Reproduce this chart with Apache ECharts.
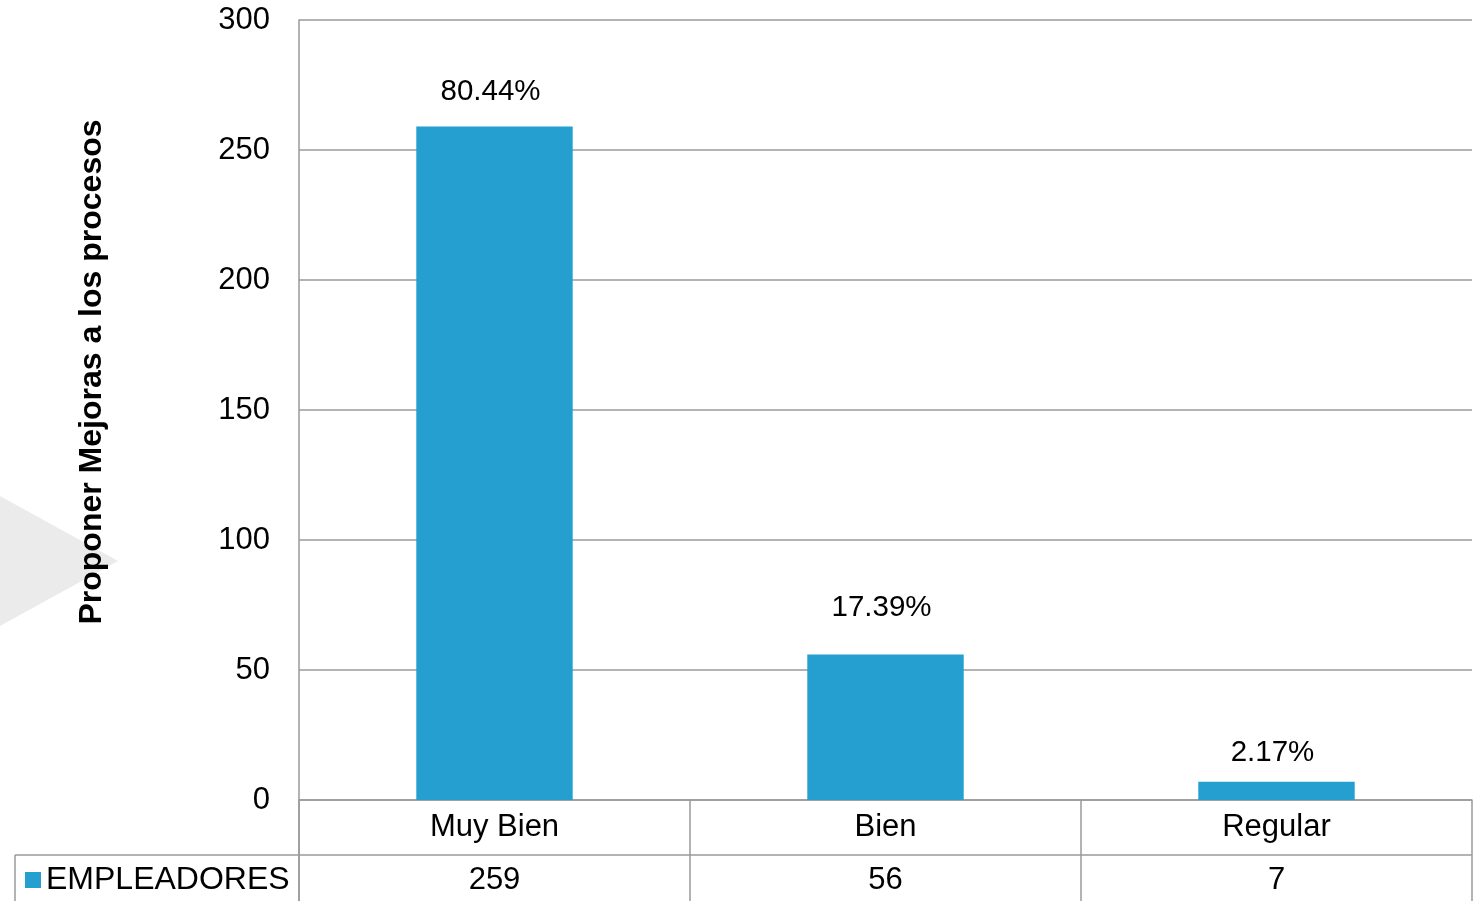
<!DOCTYPE html>
<html><head><meta charset="utf-8">
<script src="https://cdn.jsdelivr.net/npm/echarts@6/dist/echarts.min.js"></script>
<style>html,body{margin:0;padding:0;background:#fff}#c{width:1481px;height:901px}</style>
</head><body><div id="c"></div>
<script>
const categories = ['Muy Bien', 'Bien', 'Regular'];
const values = [259, 56, 7];
const percents = ['80.44%', '17.39%', '2.17%'];
const seriesName = 'EMPLEADORES';
const yTitle = 'Proponer Mejoras a los procesos';
const yTicks = [0, 50, 100, 150, 200, 250, 300];

const labelDist = [20, 32, 14];
const font = 'Liberation Sans, Arial, sans-serif';
const chart = echarts.init(document.getElementById('c'));
chart.setOption({
  animation: false,
  grid: {left: 299, right: 9, top: 20, bottom: 101, containLabel: false},
  legend: {left: 20, top: 859, itemWidth: 16, itemHeight: 16, icon: 'rect', itemGap: 0,
    textStyle: {fontFamily: font, fontSize: 32, color: '#000', padding: [0,0,0,0]}, data: [seriesName]},
  xAxis: [{
    type: 'category', data: categories, position: 'bottom',
    axisLine: {show: true, lineStyle: {color: '#9a9a9a', width: 1.5}},
    axisTick: {show: true, alignWithLabel: false, inside: false, length: 101, lineStyle: {color: '#9a9a9a', width: 1.5}},
    axisLabel: {fontFamily: font, fontSize: 31, color: '#000', margin: 12}
  }, {
    type: 'category', data: values.map(String), position: 'bottom', offset: 55,
    axisLine: {show: false}, axisTick: {show: false},
    axisLabel: {fontFamily: font, fontSize: 31, color: '#000', margin: 10}
  }],
  yAxis: {
    type: 'value', min: 0, max: 300, interval: 50,
    axisLine: {show: true, lineStyle: {color: '#9a9a9a', width: 1.5}},
    axisTick: {show: false},
    splitLine: {lineStyle: {color: '#9a9a9a', width: 1.5}},
    axisLabel: {fontFamily: font, fontSize: 31, color: '#000', margin: 29,
      formatter: v => yTicks.includes(v) ? String(v) : ''}
  },
  series: [{
    name: seriesName, type: 'bar', xAxisIndex: 0, barWidth: '40%',
    itemStyle: {color: '#259fcf'},
    data: values.map((v, i) => ({value: v, label: {distance: labelDist[i]}})),
    label: {show: true, position: 'top', fontFamily: font, fontSize: 29.5, color: '#000',
      offset: [-4, 0], formatter: p => percents[p.dataIndex]}
  }],
  graphic: [
    {type: 'polygon', z: -1, shape: {points: [[0, 496], [118, 561], [0, 626]]}, style: {fill: '#ebebeb'}},
    {type: 'line', shape: {x1: 15, y1: 855, x2: 1472, y2: 855}, style: {stroke: '#9a9a9a', lineWidth: 1.5}},
    {type: 'line', shape: {x1: 15, y1: 855, x2: 15, y2: 901}, style: {stroke: '#9a9a9a', lineWidth: 1.5}},
    {type: 'line', shape: {x1: 299, y1: 800, x2: 299, y2: 901}, style: {stroke: '#9a9a9a', lineWidth: 1.5}},
    {type: 'text', x: 92, y: 372, rotation: Math.PI / 2,
      style: {text: yTitle, fontFamily: font, fontSize: 32, fontWeight: 'bold', fill: '#000',
        align: 'center', verticalAlign: 'middle'}}
  ]
});
</script></body></html>
